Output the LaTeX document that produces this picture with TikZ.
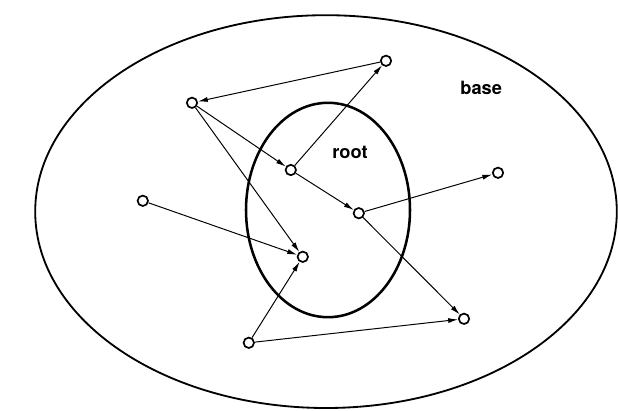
\documentclass[tikz,border=0pt]{standalone}
\usepackage{fontspec}
\setmainfont{TeX Gyre Heros}
\usepackage{tikz}
\usetikzlibrary{arrows.meta}
\tikzset{
	setline/.style  ={line width=1.3pt},
	rootline/.style ={line width=1.8pt},
	obj/.style      ={circle, draw=black, line width=1.2pt, fill=white, minimum size=0.26cm, inner sep=0pt},
	ptr/.style      ={-{Latex[length=7pt, width=3.6pt]}, line width=0.7pt},
	setname/.style  ={font=\fontsize{13}{15}\selectfont\bfseries},
}
\begin{document}
\begin{tikzpicture}
	\useasboundingbox (0,0) rectangle (15.45,-10.25);
	% the two sets
	\draw[setline] (8.15,-5.29) ellipse (7.27 and 4.91);
	\draw[rootline] (8.2,-5.25) ellipse (2.05 and 2.68);
	\node[setname] (baselbl) at (12.03,-2.2) {base};
	\node[setname] (rootlbl) at (8.75,-3.82) {root};
	% objects
	\node[obj] (a) at (9.65,-1.52) {};
	\node[obj] (b) at (4.8,-2.57) {};
	\node[obj] (c) at (7.27,-4.25) {};
	\node[obj] (d) at (8.97,-5.33) {};
	\node[obj] (e) at (12.45,-4.32) {};
	\node[obj] (f) at (3.57,-5.02) {};
	\node[obj] (g) at (7.57,-6.42) {};
	\node[obj] (h) at (6.22,-8.57) {};
	\node[obj] (i) at (11.6,-7.97) {};
	% pointers
	\draw[ptr] (a) -- (b);
	\draw[ptr] (b) -- (c);
	\draw[ptr] (b) -- (g);
	\draw[ptr] (c) -- (a);
	\draw[ptr] (c) -- (d);
	\draw[ptr] (d) -- (e);
	\draw[ptr] (d) -- (i);
	\draw[ptr] (f) -- (g);
	\draw[ptr] (h) -- (g);
	\draw[ptr] (h) -- (i);
\end{tikzpicture}
\end{document}
